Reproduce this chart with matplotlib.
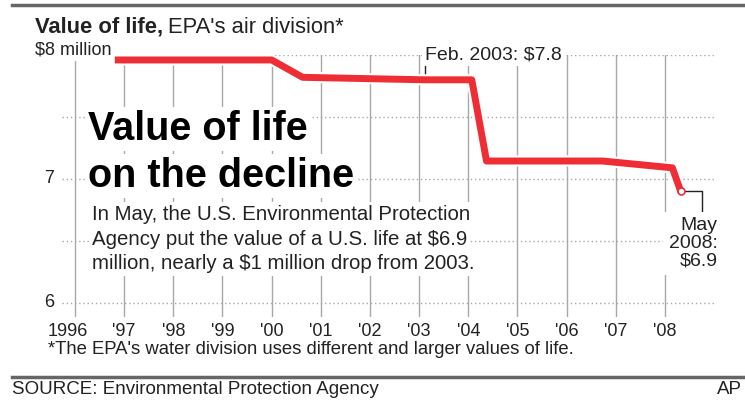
"""EPA 'value of life' step chart (AP graphic)."""

import matplotlib

matplotlib.use("Agg")
import matplotlib.pyplot as plt
import matplotlib.patheffects as pe
from matplotlib.lines import Line2D

plt.rcParams["font.family"] = ["Liberation Sans", "DejaVu Sans"]

# ---- data -----------------------------------------------------------------
YEARS = [1996, 1997, 1998, 1999, 2000, 2001, 2002, 2003, 2004, 2005, 2006, 2007, 2008]
YEAR_LABELS = ["1996", "'97", "'98", "'99", "'00", "'01", "'02", "'03", "'04",
               "'05", "'06", "'07", "'08"]
Y_GRID = [8, 7.5, 7, 6.5, 6]
Y_LABELS = {7: "7", 6: "6"}

LIFE_X = [1996.81, 2000.0, 2000.63, 2003.11, 2004.07, 2004.37, 2006.73, 2008.15, 2008.32]
LIFE_Y = [7.96, 7.96, 7.82, 7.80, 7.80, 7.145, 7.145, 7.09, 6.9]
FEB_IDX = 3

RED = "#EE2D35"
GRID = "#A8A8A8"
INK = "#222222"

W, H = 745, 404


def fx(px):
    return px / W


def fy(py):
    return 1 - py / H


fig = plt.figure(figsize=(W / 100, H / 100), dpi=100)
fig.patch.set_facecolor("white")

ax = fig.add_axes([fx(62), fy(317), 653 / W, 262 / H])
ax.set_xlim(1995.736, 2009.017)
ax.set_ylim(5.887, 8.0)
ax.axis("off")

# grid
for y in Y_GRID:
    ax.axhline(y, color=GRID, lw=1.0, ls=(0, (1, 2)), zorder=1)
for yr in YEARS:
    ax.axvline(yr, color=GRID, lw=1.0, zorder=1)

# x tick labels
for yr, lab in zip(YEARS, YEAR_LABELS):
    shift = -7 if yr == YEARS[0] else 0
    ax.annotate(lab, xy=(yr, 0), xycoords=("data", "axes fraction"),
                xytext=(shift * 0.72, -15 * 0.72), textcoords="offset points",
                ha="center", va="center", fontsize=13, color=INK)

# y labels
white_box = dict(facecolor="white", edgecolor="none", pad=1.5)
for y, lab in Y_LABELS.items():
    ax.annotate(lab, xy=(0, y), xycoords=("axes fraction", "data"),
                xytext=(-13 * 0.72, 0), textcoords="offset points",
                ha="center", va="center", fontsize=13, color=INK)
ax.annotate("$8 million", xy=(0, Y_GRID[0]), xycoords=("axes fraction", "data"),
            xytext=(-27 * 0.72, 5 * 0.72), textcoords="offset points",
            ha="left", va="center", fontsize=13, color=INK, bbox=white_box, zorder=3)

# value line
ax.plot(LIFE_X, LIFE_Y, color=RED, lw=5, solid_joinstyle="round",
        solid_capstyle="butt", zorder=4,
        path_effects=[pe.Stroke(linewidth=8, foreground="white"), pe.Normal()])

# Feb. 2003 annotation
fx3, fy3 = LIFE_X[FEB_IDX], LIFE_Y[FEB_IDX]
ax.plot([fx3, fx3], [fy3 + 0.03, fy3 + 0.14], color=INK, lw=1, zorder=3)
ax.text(fx3, Y_GRID[0], "Feb. 2003: $7.8", ha="left", va="center",
        fontsize=14, color=INK, bbox=dict(facecolor="white", edgecolor="none", pad=2),
        zorder=3)

# May 2008 annotation
ex, ey = LIFE_X[-1], LIFE_Y[-1]
ax.plot([ex, ex + 0.43, ex + 0.43], [ey, ey, ey - 0.18], color=INK, lw=1, zorder=3)
ax.plot(ex, ey, "o", mfc="white", mec=RED, ms=5, mew=1.2, zorder=6)
ax.annotate("May\n2008:\n$6.9", xy=(ex, ey), xytext=(37 * 0.72, -52 * 0.72),
            textcoords="offset points", ha="right", va="center", multialignment="right",
            fontsize=14, color=INK, linespacing=1.05,
            bbox=dict(facecolor="white", edgecolor="none", pad=4), zorder=3)

# big headline and blurb (each line masks the grid behind it)
for txt, base in [("Value of life", 140), ("on the decline", 187)]:
    fig.text(fx(88), fy(base), txt, ha="left", va="baseline", fontsize=28.5,
             fontweight="bold", color="black",
             bbox=dict(facecolor="white", edgecolor="none", pad=2), zorder=3)

blurb = ["In May, the U.S. Environmental Protection",
         "Agency put the value of a U.S. life at $6.9",
         "million, nearly a $1 million drop from 2003."]
for txt, base in zip(blurb, [220, 245, 269]):
    fig.text(fx(92), fy(base), txt, ha="left", va="baseline", fontsize=14.7,
             color=INK, bbox=dict(facecolor="white", edgecolor="none", pad=2), zorder=3)

# title: bold lead-in followed by regular text
title_bold = fig.text(fx(35), fy(33), "Value of life,", ha="left", va="baseline",
                      fontsize=15.8, fontweight="bold", color=INK)
fig.canvas.draw()
bb = title_bold.get_window_extent()
fig.text(bb.x1 / W + 0.006, fy(33), "EPA's air division*", ha="left", va="baseline",
         fontsize=15.8, color=INK)

# footnote, source, rules
fig.text(fx(48), fy(350), "*The EPA's water division uses different and larger values of life.",
         ha="left", va="center", fontsize=13.3, color=INK)
fig.text(fx(12), fy(390), "SOURCE: Environmental Protection Agency",
         ha="left", va="center", fontsize=13.5, color=INK)
fig.text(fx(742), fy(390), "AP", ha="right", va="center", fontsize=13.5, color=INK)

fig.add_artist(Line2D([fx(12), fx(743)], [fy(5), fy(5)], color="#666666", lw=2.5))
fig.add_artist(Line2D([fx(12), fx(745)], [fy(377), fy(377)], color="#666666", lw=2.5))

fig.savefig("out.png", dpi=100, facecolor="white")
